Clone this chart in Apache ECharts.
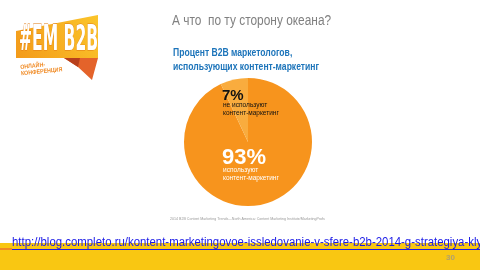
<!DOCTYPE html>
<html><head><meta charset="utf-8">
<script src="https://cdn.jsdelivr.net/npm/echarts@6/dist/echarts.min.js"></script>
<style>html,body{margin:0;padding:0;background:#fff}#c{width:480px;height:270px}</style>
</head><body><div id="c"></div>
<script>
const categories = ['используют контент-маркетинг', 'не используют контент-маркетинг'];
const values = [93, 7];
const percentLabels = ['93%', '7%'];
const subLabels = [['используют', 'контент-маркетинг'], ['не используют', 'контент-маркетинг']];
const titleText = 'А что  по ту сторону океана?';
const subtitleLines = ['Процент B2B маркетологов,', 'использующих контент-маркетинг'];
const sourceText = '2014 B2B Content Marketing Trends—North America: Content Marketing Institute/MarketingProfs';
const urlText = 'http://blog.completo.ru/kontent-marketingovoe-issledovanie-v-sfere-b2b-2014-g-strategiya-klyuchevye-pokazateli';
const pageNum = '30';

const chart = echarts.init(document.getElementById('c'), null, {renderer: 'canvas'});
const sans = "'Liberation Sans', sans-serif";
function txt(x, y, text, fill, font, sx, z, extra) {
  return Object.assign({type: 'text', x: x, y: y, scaleX: sx || 1, z: z || 5,
    style: {text: text, fill: fill, font: font}}, extra || {});
}
chart.setOption({
  backgroundColor: '#ffffff',
  animation: false,
  series: [{
    type: 'pie',
    center: [248, 142],
    radius: 64,
    startAngle: 90,
    clockwise: true,
    label: {show: false},
    labelLine: {show: false},
    silent: true,
    data: categories.map((c, i) => ({name: c, value: values[i],
      itemStyle: {color: i === 0 ? '#F7941D' : '#F9AC3E'}}))
  }],
  graphic: [
    // bottom band
    {type: 'rect', shape: {x: 0, y: 243, width: 480, height: 27}, style: {fill: '#F9C712'}, z: 1},
    {type: 'rect', shape: {x: 0, y: 248, width: 12, height: 2}, style: {fill: '#F08A24'}, z: 2},
    txt(12, 237, urlText, '#1A1AE6', "12px " + sans, 0.95),
    {type: 'line', shape: {x1: 12, y1: 249.5, x2: 480, y2: 249.5}, style: {stroke: '#1A1AE6', lineWidth: 1}, z: 5},
    txt(446, 254, pageNum, '#B0A070', "bold 8px " + sans),
    // title
    txt(172, 14, titleText, '#808080', "14px " + sans, 0.85),
    txt(173, 47, subtitleLines[0], '#1C74BA', "bold 11px " + sans, 0.78),
    txt(173, 61, subtitleLines[1], '#1C74BA', "bold 11px " + sans, 0.78),
    // pie labels
    txt(222, 88, percentLabels[1], '#111', "bold 15px " + sans, 1, 10),
    txt(223, 101, subLabels[1][0], '#111', "8px " + sans, 0.82, 10),
    txt(223, 108.5, subLabels[1][1], '#111', "8px " + sans, 0.81, 10),
    txt(222, 147, percentLabels[0], '#fff', "bold 22px " + sans, 1, 10),
    txt(223, 166, subLabels[0][0], '#fff', "8px " + sans, 0.82, 10),
    txt(223, 174, subLabels[0][1], '#fff', "8px " + sans, 0.81, 10),
    // source
    txt(170, 217, sourceText, '#999', "3.6px " + sans, 1, 5),
    // logo
    {type: 'polygon', shape: {points: [[16, 31], [98, 15], [98, 58], [16, 58]]},
      style: {fill: new echarts.graphic.LinearGradient(0, 1, 1, 0, [{offset: 0, color: '#F39A1A'}, {offset: 1, color: '#FBC52A'}])}, z: 3},
    {type: 'polygon', shape: {points: [[64, 58], [98, 58], [92, 80], [78, 67]]}, style: {fill: '#E4632A'}, z: 2},
    {type: 'polygon', shape: {points: [[64, 58], [80, 58], [78, 67]]}, style: {fill: '#B8401C'}, z: 3},
    txt(19, 23, '#EM B2B', '#fff', "bold 36px 'DejaVu Sans Condensed', sans-serif", 0.48, 4,
      {style: {text: '#EM B2B', fill: '#fff', stroke: '#E07A14', lineWidth: 0.8, font: "bold 36px 'DejaVu Sans Condensed', sans-serif"}}),
    txt(20, 64, 'ОНЛАЙН-\nКОНФЕРЕНЦИЯ', '#F08A24', "bold 6px " + sans, 0.88, 4,
      {rotation: 0.1, style: {text: 'ОНЛАЙН-\nКОНФЕРЕНЦИЯ', fill: '#F08A24', font: "bold 6px " + sans, lineHeight: 6.5}})
  ]
});
</script></body></html>
